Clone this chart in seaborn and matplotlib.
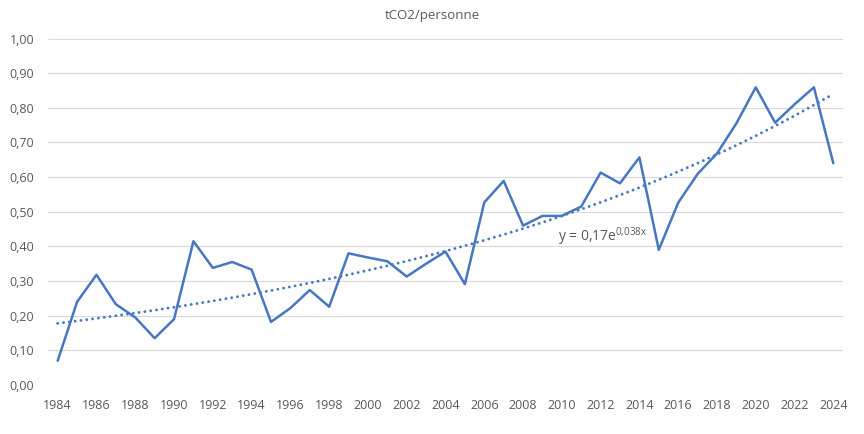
import matplotlib.pyplot as plt
from matplotlib.ticker import FuncFormatter, MultipleLocator
import numpy as np
import pandas as pd
import seaborn as sns

# ── Données ───────────────────────────────────────────────────────────
annees = list(range(1984, 2025))
tco2_par_personne = [
    0.070, 0.240, 0.318, 0.233, 0.195, 0.135, 0.190, 0.415, 0.338, 0.355,
    0.333, 0.182, 0.222, 0.274, 0.226, 0.380, 0.368, 0.357, 0.313, 0.350,
    0.385, 0.291, 0.527, 0.589, 0.460, 0.488, 0.488, 0.515, 0.613, 0.582,
    0.657, 0.390, 0.526, 0.609, 0.668, 0.755, 0.859, 0.757, 0.810, 0.859,
    0.640,
]
titre = "tCO2/personne"
equation = r"y = 0,17e$^{\mathregular{0{,}038x}}$"

_BLEU = "#4677C0"
_GRIS_TEXTE = "#595959"
_GRIS_GRILLE = "#D9D9D9"

df = pd.DataFrame({"annee": annees, "valeur": tco2_par_personne})

# Tendance exponentielle (moindres carrés sur le log, comme Excel)
rang = np.arange(1, len(df) + 1)
b, ln_a = np.polyfit(rang, np.log(df["valeur"]), 1)
df["tendance"] = np.exp(ln_a) * np.exp(b * rang)

sns.set_theme(style="white")
plt.rcParams["font.family"] = ["Open Sans", "DejaVu Sans"]

fig = plt.figure(figsize=(8.64, 4.34), dpi=100)
ax = fig.add_axes([48 / 864, 1 - 385 / 434, 795 / 864, 346.5 / 434])

sns.lineplot(data=df, x="annee", y="valeur", color=_BLEU, linewidth=1.8, ax=ax)
sns.lineplot(
    data=df, x="annee", y="tendance", color=_BLEU, linewidth=2.1,
    linestyle=(0, (0.01, 2.0)), dash_capstyle="round", ax=ax,
)

ax.set_xlim(1983.5, 2024.5)
ax.set_ylim(0, 1.0)
ax.xaxis.set_major_locator(MultipleLocator(2))
ax.yaxis.set_major_locator(MultipleLocator(0.1))
ax.yaxis.set_major_formatter(FuncFormatter(lambda v, _: f"{v:.2f}".replace(".", ",")))
ax.set_xlabel("")
ax.set_ylabel("")
ax.tick_params(axis="both", length=0, labelsize=9, colors=_GRIS_TEXTE)
ax.tick_params(axis="x", pad=10)
ax.tick_params(axis="y", pad=10)
ax.yaxis.grid(True, color=_GRIS_GRILLE, linewidth=0.8)
ax.xaxis.grid(False)
for spine in ax.spines.values():
    spine.set_visible(False)
ax.set_axisbelow(True)

ax.text(2009.8, 0.427, equation, fontsize=10, color=_GRIS_TEXTE, ha="left", va="center")
fig.text(0.5, 1 - 15 / 434, titre, fontsize=9.5, color=_GRIS_TEXTE, ha="center", va="center")

fig.savefig("out.png", dpi=100, facecolor="white")
